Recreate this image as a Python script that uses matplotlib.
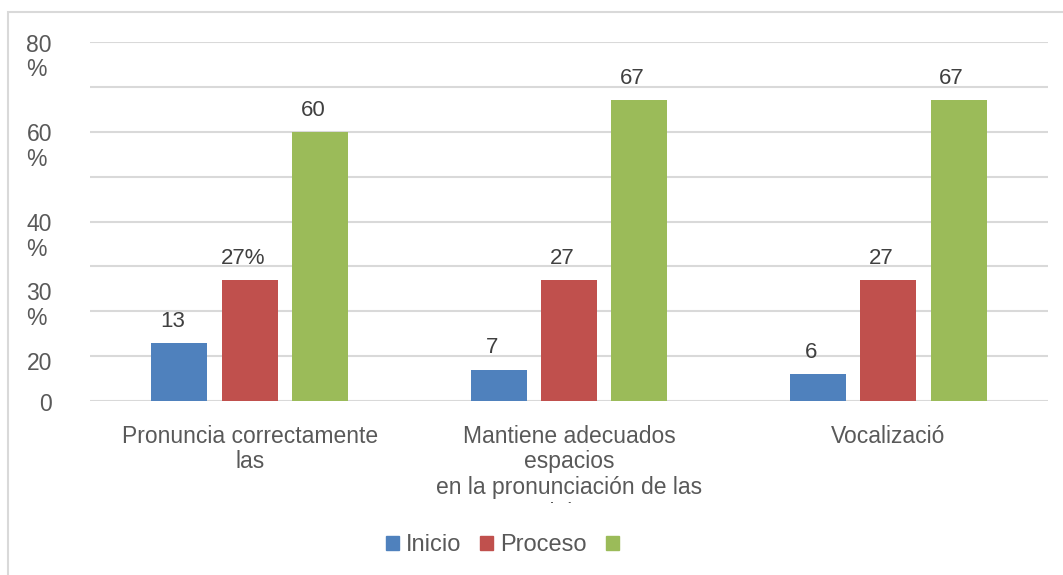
import matplotlib.pyplot as plt
from matplotlib.patches import Rectangle, Patch
import numpy as np

plt.rcParams['font.family'] = ['Liberation Sans', 'DejaVu Sans']

categories = ['Pronuncia correctamente\nlas',
              'Mantiene adecuados\nespacios\nen la pronunciación de las\npalabras',
              'Vocalizació']
series_names = ['Inicio', 'Proceso', ' ']
inicio = [13, 7, 6]
proceso = [27, 27, 27]
logrado = [60, 67, 67]
value_labels = [['13', '7', '6'], ['27%', '27', '27'], ['60', '67', '67']]
ytick_pos = [80, 60, 40, 24.7, 9.1, 0]
ytick_text = ['80\n%', '60\n%', '40\n%', '30\n%', '20', '0']

colors = ['#4F81BD', '#C0504D', '#9BBB59']
text_gray = '#595959'

fig = plt.figure(figsize=(10.63, 5.75), dpi=100)
fig.patches.append(Rectangle((8 / 1063, -0.1), 1.2, 1 - 12 / 575 + 0.1,
                             transform=fig.transFigure, fill=False,
                             edgecolor='#D9D9D9', linewidth=1.5))
ax = fig.add_axes([90 / 1063, 1 - 401 / 575, 958 / 1063, 359 / 575])

x = np.arange(len(categories))
width = 0.175
step = 0.22
for i, vals in enumerate([inicio, proceso, logrado]):
    pos = x + (i - 1) * step
    ax.bar(pos, vals, width, color=colors[i], zorder=3)
    for p, v, t in zip(pos, vals, value_labels[i]):
        ax.annotate(t, (p, v), xytext=(-5, 8), textcoords='offset points',
                    ha='center', va='bottom', fontsize=16, color='#404040')

ax.set_xlim(-0.5, 2.5)
ax.set_ylim(0, 80)
ax.set_yticks(np.arange(0, 81, 10))
ax.set_yticklabels([])
ax.yaxis.grid(True, color='#D9D9D9', linewidth=1.5, zorder=0)
ax.tick_params(axis='both', length=0)
for s in ax.spines.values():
    s.set_visible(False)

for yp, t in zip(ytick_pos, ytick_text):
    ax.annotate(t, (0, yp), xycoords=('figure fraction', 'data'),
                xytext=(52 * 0.72, 6), textcoords='offset points',
                ha='right', va='top', multialignment='left',
                fontsize=16.5, color=text_gray, linespacing=1.1)

ax.set_xticks(x)
ax.set_xticklabels(categories, fontsize=16.5, color=text_gray, linespacing=1.15)
ax.tick_params(axis='x', pad=17)
# the category text is cut off just above the legend, as in the original
clip = Rectangle((0, 1 - 503 / 575), 1, 503 / 575, transform=fig.transFigure)
for lbl in ax.get_xticklabels():
    lbl.set_clip_path(clip)
    lbl.set_clip_on(True)

handles = [Patch(color=c) for c in colors]
fig.legend(handles, series_names, loc='center', bbox_to_anchor=(509 / 1063, 1 - 545 / 575),
           ncol=3, frameon=False, fontsize=17, handlelength=0.55, handleheight=0.55,
           handletextpad=0.3, columnspacing=0.8, labelcolor=text_gray)

fig.savefig('out.png', dpi=100)
